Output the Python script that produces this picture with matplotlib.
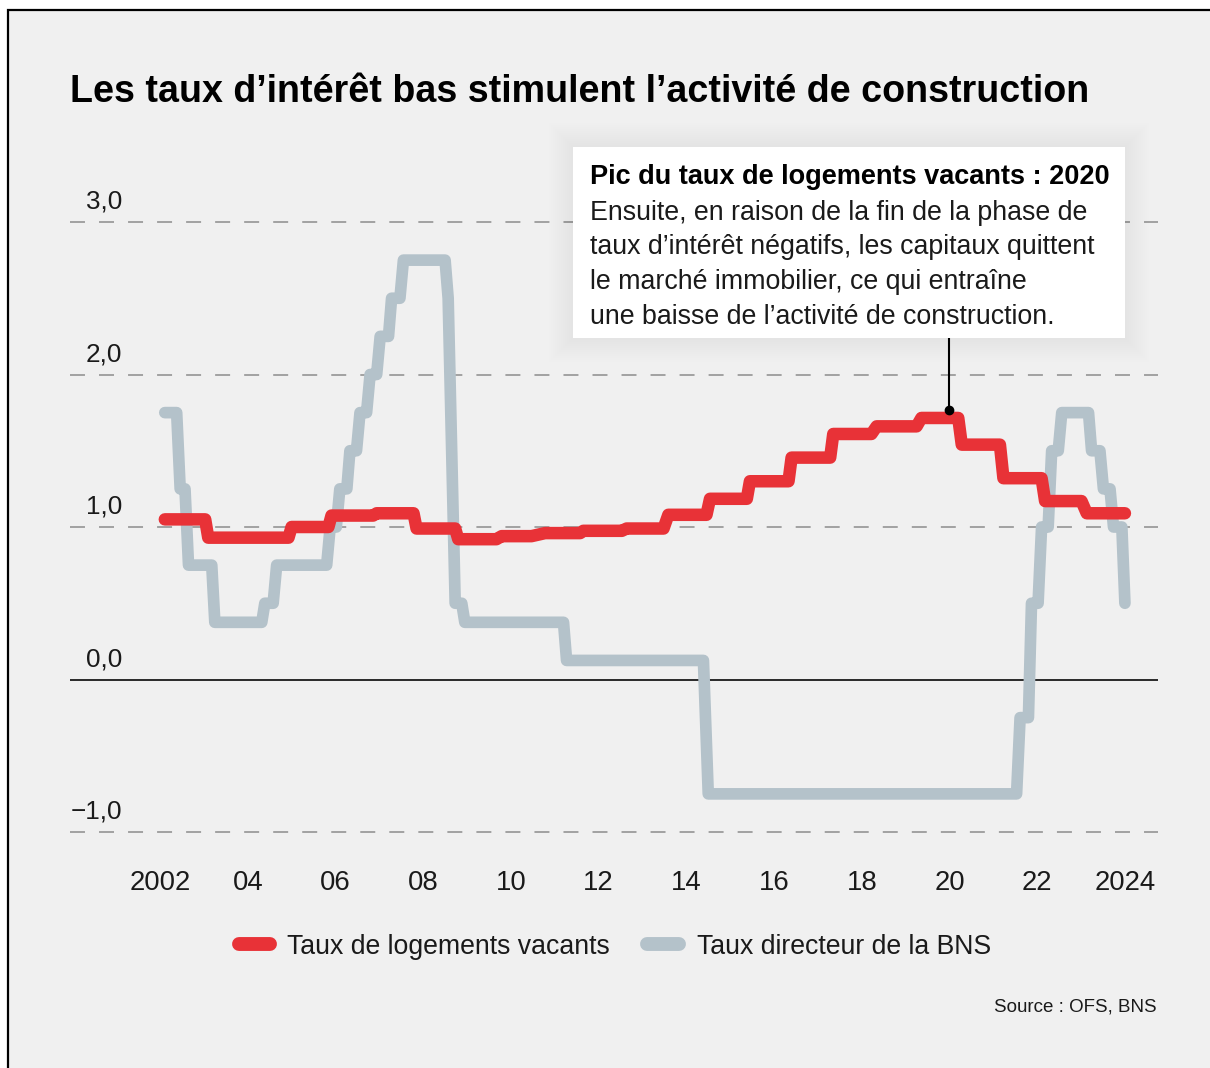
import matplotlib.pyplot as plt
from matplotlib.patches import Rectangle
from matplotlib.lines import Line2D

# vacancy rate (red): one level per year, start / end of each flat part
red_start = [2002.11, 2003.10, 2005.00, 2005.91, 2006.94, 2007.85, 2008.80, 2009.79,
             2010.78, 2011.65, 2012.64, 2013.59, 2014.54, 2015.45, 2016.40, 2017.35,
             2018.34, 2019.36, 2020.28, 2021.23, 2022.18, 2023.13]
red_end = [2003.03, 2004.93, 2005.84, 2006.86, 2007.78, 2008.73, 2009.67, 2010.47,
           2011.58, 2012.53, 2013.48, 2014.46, 2015.38, 2016.33, 2017.28, 2018.22,
           2019.25, 2020.20, 2021.15, 2022.10, 2023.01, 2024.00]
red_value = [1.05, 0.93, 1.00, 1.075, 1.09, 0.99, 0.92, 0.94,
             0.96, 0.975, 0.99, 1.08, 1.185, 1.30, 1.455, 1.61,
             1.66, 1.715, 1.54, 1.32, 1.17, 1.09]

# SNB policy rate (grey)
grey_start = [2002.11, 2002.46, 2002.65, 2003.25, 2004.39, 2004.66, 2005.88, 2006.10,
              2006.33, 2006.56, 2006.79, 2007.02, 2007.28, 2007.55, 2008.57, 2008.73,
              2008.95, 2011.27, 2014.50, 2021.61, 2021.87, 2022.10, 2022.33, 2022.56,
              2023.24, 2023.51, 2023.74, 2024.00]
grey_end = [2002.38, 2002.57, 2003.18, 2004.32, 2004.58, 2005.80, 2006.02, 2006.26,
            2006.48, 2006.71, 2006.94, 2007.21, 2007.47, 2008.50, 2008.57, 2008.88,
            2011.20, 2014.39, 2021.53, 2021.80, 2022.02, 2022.25, 2022.48, 2023.17,
            2023.43, 2023.66, 2023.93, 2024.00]
grey_value = [1.75, 1.25, 0.75, 0.375, 0.5, 0.75, 1.0, 1.25,
              1.5, 1.75, 2.0, 2.25, 2.5, 2.75, 2.5, 0.5,
              0.375, 0.125, -0.75, -0.25, 0.5, 1.0, 1.5, 1.75,
              1.5, 1.25, 1.0, 0.5]

year_ticks = [2002, 2004, 2006, 2008, 2010, 2012, 2014, 2016, 2018, 2020, 2022, 2024]
year_labels = ['2002', '04', '06', '08', '10', '12', '14', '16', '18', '20', '22', '2024']
y_grid = [3.0, 2.0, 1.0, -1.0]
y_labels = ['3,0', '2,0', '1,0', '0,0', '\u22121,0']
y_label_pos = [3.0, 2.0, 1.0, 0.0, -1.0]

RED = '#e83237'
GREY = '#b4c2ca'
BG = '#f0f0f0'
INK = '#1a1a1a'

plt.rcParams['font.family'] = ['Liberation Sans', 'DejaVu Sans']

W, H = 1210, 1068


def fx(px):
    return px / W


def fy(py):
    return 1 - py / H


def steps(starts, ends, values):
    xs, ys = [], []
    for s, e, v in zip(starts, ends, values):
        xs += [s, e]
        ys += [v, v]
    return xs, ys


fig = plt.figure(figsize=(W / 100, H / 100), dpi=100)
fig.patch.set_facecolor('white')
fig.patches.append(Rectangle((fx(8), -0.1), 1.2, fy(10) + 0.1, transform=fig.transFigure,
                             facecolor=BG, edgecolor='black', linewidth=1.6, zorder=-5))

ax = fig.add_axes([fx(70), fy(832), (1158 - 70) / W, (832 - 222) / H])
ax.set_facecolor('none')
ax.set_xlim(2002 + (70 - 160) / 43.86, 2002 + (1158 - 160) / 43.86)
ax.set_ylim(-1.0, 3.0)
for s in ax.spines.values():
    s.set_visible(False)

for g in y_grid:
    ax.axhline(g, color='#8c8c8c', linewidth=1.1, dashes=(9.8, 9.2), zorder=1, clip_on=False)
ax.axhline(0, color=INK, linewidth=1.3, zorder=1)

gx, gy = steps(grey_start, grey_end, grey_value)
ax.plot(gx, gy, color=GREY, linewidth=8.4, solid_capstyle='round', solid_joinstyle='round',
        zorder=2, clip_on=False)
rx, ry = steps(red_start, red_end, red_value)
ax.plot(rx, ry, color=RED, linewidth=9.0, solid_capstyle='round', solid_joinstyle='round',
        zorder=3, clip_on=False)

ax.set_xticks(year_ticks, year_labels)
ax.set_yticks([])
ax.tick_params(axis='x', length=0, pad=27, labelsize=19.8, labelcolor=INK)

ytrans = ax.get_yaxis_transform()
for v, lab in zip(y_label_pos, y_labels):
    ax.text((122 - 70) / 1088, v + 13.5 / 152.5, lab, transform=ytrans, ha='right',
            va='baseline', fontsize=18.8, color=INK)

# annotation on the 2020 peak
ax.plot([2020, 2020], [1.765, 2.25], color='black', linewidth=1.5, zorder=4, clip_on=False)
ax.plot([2020], [1.765], 'o', color='black', markersize=6, zorder=4, clip_on=False)

bx0, by0, bx1, by1 = 573, 147, 1125, 338
for i in range(12):
    p = (i + 1) * 2.0
    fig.patches.append(Rectangle((fx(bx0 - p), fy(by1 + p)), (bx1 - bx0 + 2 * p) / W,
                                 (by1 - by0 + 2 * p) / H, transform=fig.transFigure,
                                 facecolor='black', edgecolor='none', alpha=0.004, zorder=5))
fig.patches.append(Rectangle((fx(bx0), fy(by1)), (bx1 - bx0) / W, (by1 - by0) / H,
                             transform=fig.transFigure, facecolor='white', edgecolor='none',
                             zorder=6))
fig.text(fx(590), fy(177.5), 'Pic du taux de logements vacants : 2020', fontsize=19.5,
         fontweight='bold', color='black', va='center', ha='left', zorder=7)
body = ['Ensuite, en raison de la fin de la phase de',
        'taux d\u2019int\u00e9r\u00eat n\u00e9gatifs, les capitaux quittent',
        'le march\u00e9 immobilier, ce qui entra\u00eene',
        'une baisse de l\u2019activit\u00e9 de construction.']
for i, line in enumerate(body):
    fig.text(fx(590), fy(212.5 + i * 34.7), line, fontsize=19.3, color=INK, va='center',
             ha='left', zorder=7)

fig.text(fx(70), fy(92.5), 'Les taux d\u2019int\u00e9r\u00eat bas stimulent l\u2019activit\u00e9 de construction',
         fontsize=27.1, fontweight='bold', color='black', va='center', ha='left')

# legend
fig.lines.append(Line2D([fx(239), fx(270)], [fy(944), fy(944)], transform=fig.transFigure,
                        color=RED, linewidth=10, solid_capstyle='round'))
fig.text(fx(287), fy(947), 'Taux de logements vacants', fontsize=19.2, color=INK,
         va='center', ha='left')
fig.lines.append(Line2D([fx(647), fx(679)], [fy(944), fy(944)], transform=fig.transFigure,
                        color=GREY, linewidth=10, solid_capstyle='round'))
fig.text(fx(697), fy(947), 'Taux directeur de la BNS', fontsize=19.2, color=INK,
         va='center', ha='left')

fig.text(fx(1157), fy(1007.5), 'Source : OFS, BNS', fontsize=13.5, color=INK, va='center', ha='right')

fig.savefig('out.png', dpi=100)
